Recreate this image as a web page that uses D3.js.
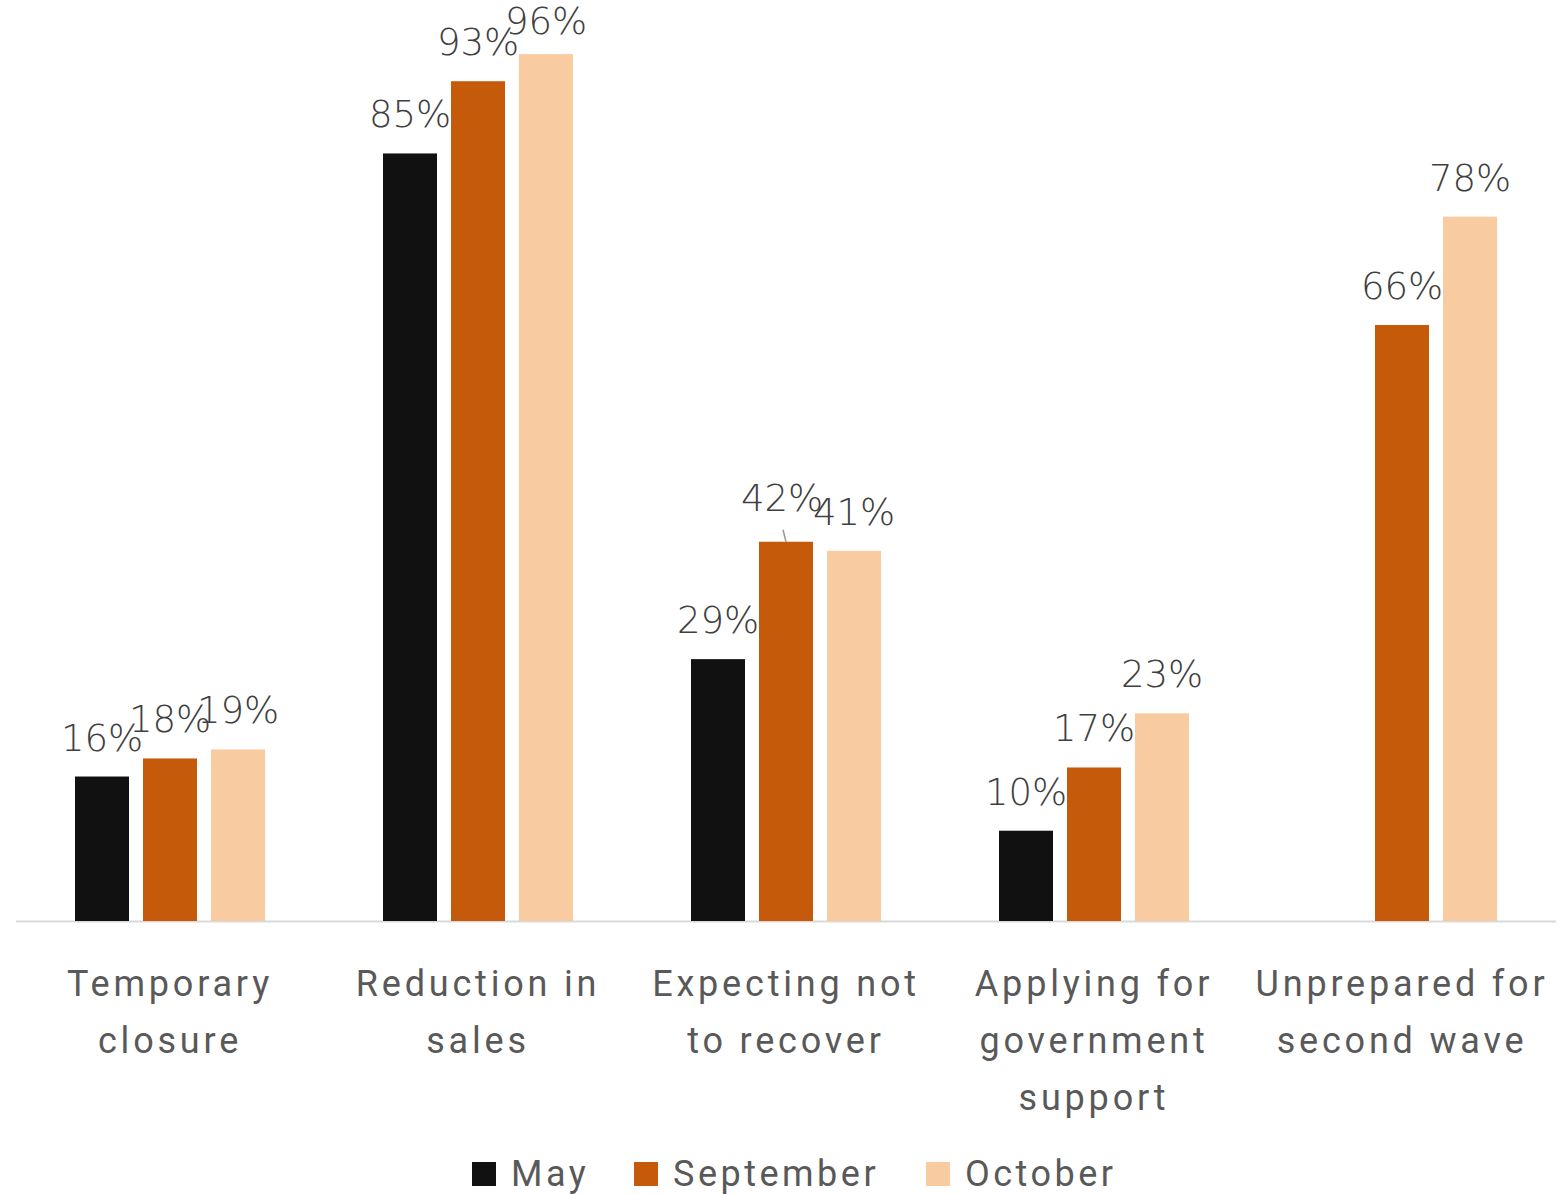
<!DOCTYPE html>
<html>
<head>
<meta charset="utf-8">
<script src="https://cdn.jsdelivr.net/npm/d3@7"></script>
<style>
  html, body { margin: 0; padding: 0; background: #ffffff; }
  svg { display: block; }
</style>
</head>
<body>
<svg id="chart" width="1565" height="1195"></svg>
<script>
// Share of businesses reporting each impact, by survey month
const categories = ["Temporary closure", "Reduction in sales", "Expecting not to recover", "Applying for government support", "Unprepared for second wave"];
const categoryLines = [
  ["Temporary", "closure"],
  ["Reduction in", "sales"],
  ["Expecting not", "to recover"],
  ["Applying for", "government", "support"],
  ["Unprepared for", "second wave"]
];
const seriesNames = ["May", "September", "October"];
const mayValues = [16, 85, 29, 10, null];
const septemberValues = [18, 93, 42, 17, 66];
const octoberValues = [19, 96, 41, 23, 78];
const seriesColors = ["#111111", "#C55A0B", "#F8CBA0"];

const seriesValues = [mayValues, septemberValues, octoberValues];

const svg = d3.select("#chart");
const W = 1565, H = 1195;
const margin = { left: 16, right: 9, top: 18, baseline: 921 };

const x0 = d3.scaleBand()
  .domain(categories)
  .range([margin.left, W - margin.right])
  .paddingInner(0.383)
  .paddingOuter(0.1915);

const y = d3.scaleLinear()
  .domain([0, 100])
  .range([margin.baseline, margin.top]);

// bars inside a group: 54px wide with 14px gaps
const groupWidth = 190;
const xs = d3.scaleBand()
  .domain(seriesNames)
  .range([0, groupWidth])
  .paddingInner(14 / 68)
  .paddingOuter(0);

const groupLeft = c => x0(c) + x0.bandwidth() / 2 - groupWidth / 2;
const barCenter = d => groupLeft(d.cat) + xs(d.series) + xs.bandwidth() / 2;

const rows = [];
categories.forEach((c, i) => {
  seriesNames.forEach((s, j) => {
    const v = seriesValues[j][i];
    if (v !== null && v !== undefined) rows.push({ cat: c, series: s, value: v, j });
  });
});

// axis baseline
svg.append("line")
  .attr("x1", margin.left).attr("x2", W - margin.right)
  .attr("y1", y(0) + 0.5).attr("y2", y(0) + 0.5)
  .attr("stroke", "#d9d9d9").attr("stroke-width", 2);

// bars
svg.append("g").selectAll("rect")
  .data(rows)
  .join("rect")
  .attr("x", d => groupLeft(d.cat) + xs(d.series))
  .attr("width", xs.bandwidth())
  .attr("y", d => y(d.value))
  .attr("height", d => y(0) - y(d.value))
  .attr("fill", d => seriesColors[d.j]);

// value labels (one label is lifted with a short leader line)
const labelFont = "'DejaVu Sans', sans-serif";
const lifted = d => d.cat === "Expecting not to recover" && d.series === "September";
const labelBaseline = d => Math.max(34, y(d.value) - 26 - (lifted(d) ? 5 : 0));

svg.append("g").selectAll("line")
  .data(rows.filter(lifted))
  .join("line")
  .attr("x1", d => barCenter(d) - 3)
  .attr("x2", d => barCenter(d))
  .attr("y1", d => y(d.value) - 12)
  .attr("y2", d => y(d.value))
  .attr("stroke", "#999").attr("stroke-width", 1.5);

svg.append("g").selectAll("text")
  .data(rows)
  .join("text")
  .attr("x", d => barCenter(d) - (lifted(d) ? 4 : 0))
  .attr("y", labelBaseline)
  .attr("text-anchor", "middle")
  .attr("font-family", labelFont)
  .attr("font-weight", 200)
  .attr("font-size", 37)
  .attr("fill", "#404040")
  .text(d => d.value + "%");

// category labels
const catText = svg.append("g").selectAll("text")
  .data(categories)
  .join("text")
  .attr("x", c => x0(c) + x0.bandwidth() / 2)
  .attr("y", 996)
  .attr("text-anchor", "middle")
  .attr("font-family", "Roboto, sans-serif")
  .attr("font-size", 36)
  .attr("letter-spacing", 3.8)
  .attr("fill", "#595959");

catText.each(function(c, i) {
  const t = d3.select(this);
  categoryLines[i].forEach((line, k) => {
    t.append("tspan")
      .attr("x", x0(c) + x0.bandwidth() / 2)
      .attr("dy", k === 0 ? 0 : 57)
      .text(line);
  });
});

// legend
const legendX = [472, 634, 926];
const legend = svg.append("g").selectAll("g")
  .data(seriesNames)
  .join("g")
  .attr("transform", (d, i) => `translate(${legendX[i]},1162)`);

legend.append("rect")
  .attr("width", 24).attr("height", 24)
  .attr("fill", (d, i) => seriesColors[i]);

legend.append("text")
  .attr("x", 39).attr("y", 24)
  .attr("font-family", "Roboto, sans-serif")
  .attr("font-size", 36)
  .attr("letter-spacing", 3.5)
  .attr("fill", "#595959")
  .text(d => d);
</script>
</body>
</html>
